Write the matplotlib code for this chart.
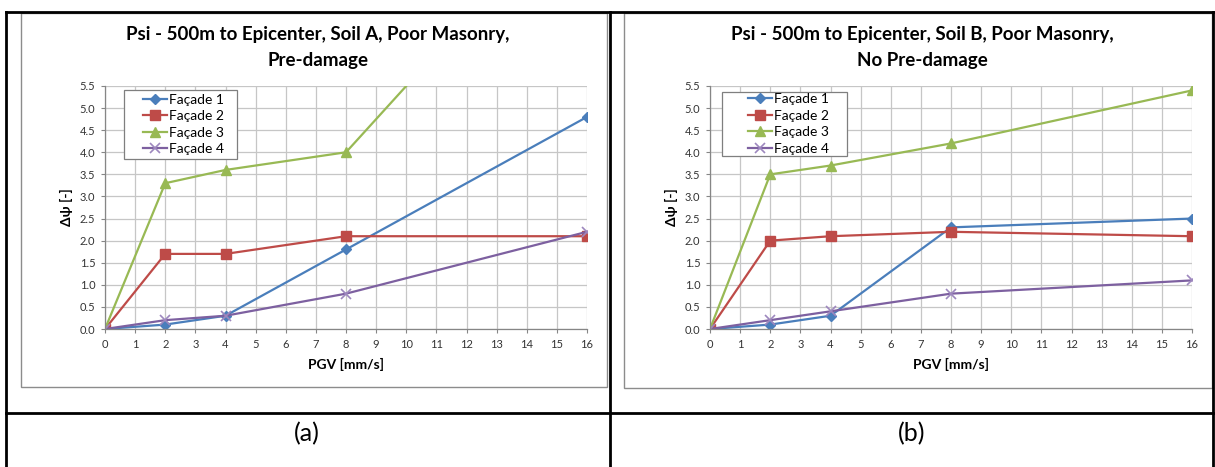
import numpy as np
import matplotlib
matplotlib.use("Agg")
import matplotlib.pyplot as plt
from matplotlib.lines import Line2D
from matplotlib.patches import Rectangle

plt.rcParams['font.family'] = ['Lato', 'DejaVu Sans']

# data
pgv = [0, 2, 4, 8, 16]
series_names = ["Façade 1", "Façade 2", "Façade 3", "Façade 4"]

psi_a_f1 = [0.0, 0.1, 0.3, 1.8, 4.8]
psi_a_f2 = [0.0, 1.7, 1.7, 2.1, 2.1]
psi_a_f3 = [0.0, 3.3, 3.6, 4.0, 10.0]   # last point off the chart
psi_a_f4 = [0.0, 0.2, 0.3, 0.8, 2.2]

psi_b_f1 = [0.0, 0.1, 0.3, 2.3, 2.5]
psi_b_f2 = [0.0, 2.0, 2.1, 2.2, 2.1]
psi_b_f3 = [0.0, 3.5, 3.7, 4.2, 5.4]
psi_b_f4 = [0.0, 0.2, 0.4, 0.8, 1.1]

titles = ["Psi - 500m to Epicenter, Soil A, Poor Masonry,\nPre-damage",
          "Psi - 500m to Epicenter, Soil B, Poor Masonry,\nNo Pre-damage"]
panel_labels = ["(a)", "(b)"]

# Excel 2007 palette
colors = ["#4A7EBB", "#BE4B48", "#98B954", "#7D60A0"]
markers = ["D", "s", "^", "x"]
msizes = [5, 7, 7, 7]

W, H = 1215, 467
fig = plt.figure(figsize=(W / 100, H / 100), dpi=100)


def fx(px):
    return px / W


def fy(py):
    return 1 - py / H


def draw_chart(x0_px, frame_px, data, title, legend_px, handle_x):
    # chart frame (grey border)
    fl, ft, fr, fb = frame_px
    fig.patches.append(Rectangle((fx(fl), fy(fb)), fx(fr - fl), (fb - ft) / H,
                                 transform=fig.transFigure, fill=False,
                                 edgecolor="#8c8c8c", linewidth=1.0))
    # plot area: x=0 at x0_px, x=16 at x0_px+482 ; y=0 at 329, 5.5 at 86
    ax = fig.add_axes([fx(x0_px), fy(329), 482 / W, 243 / H])
    for vals, c, m, ms, name in zip(data, colors, markers, msizes, series_names):
        ax.plot(pgv, vals, color=c, marker=m, markersize=ms, linewidth=1.6,
                markeredgewidth=1.0 if m != "x" else 1.2,
                markeredgecolor=c if m != "x" else "#9D87BE",
                label=name, clip_on=True)
    ax.set_xlim(0, 16)
    ax.set_ylim(0, 5.5)
    ax.set_xticks(np.arange(0, 17, 1))
    ax.set_yticks(np.arange(0, 5.51, 0.5))
    ax.set_yticklabels([f"{v:.1f}" for v in np.arange(0, 5.51, 0.5)])
    ax.grid(True, color="#c6c6c6", linewidth=0.9)
    ax.set_axisbelow(True)
    for s in ["top", "right"]:
        ax.spines[s].set_visible(False)
    for s in ["left", "bottom"]:
        ax.spines[s].set_color("#868686")
        ax.spines[s].set_linewidth(0.9)
    ax.tick_params(axis="both", labelsize=8, colors="#868686", labelcolor="#333333",
                   length=3, width=0.8, pad=4)
    ax.set_xlabel("PGV [mm/s]", fontsize=10, fontweight="bold", labelpad=6)
    ax.set_ylabel("Δψ [-]", fontsize=10, fontweight="bold", labelpad=5)

    # legend box drawn by hand so its size matches the original
    lx0, ly0, lx1, ly1 = legend_px
    ax.add_patch(Rectangle((fx(lx0), fy(ly1)), fx(lx1 - lx0), (ly1 - ly0) / H,
                           transform=fig.transFigure, facecolor="white",
                           edgecolor="#7f7f7f", linewidth=0.9, zorder=4.9,
                           clip_on=False))
    ax.legend(loc="center left",
              bbox_to_anchor=(fx(handle_x), fy((ly0 + ly1) / 2)),
              bbox_transform=fig.transFigure,
              fontsize=10, frameon=False, borderpad=0, handlelength=1.75,
              handletextpad=0.1, labelspacing=0.32, borderaxespad=0)
    cx = (fl + fr) / 2 + 4
    fig.text(fx(cx), fy(47.5), title, ha="center", va="center", fontsize=13.5,
             fontweight="bold", linespacing=1.6)
    return ax


draw_chart(105, (21, 13, 607, 387), [psi_a_f1, psi_a_f2, psi_a_f3, psi_a_f4],
           titles[0], (124, 90, 237, 159), 143)
draw_chart(710, (624, 13, 1212, 388), [psi_b_f1, psi_b_f2, psi_b_f3, psi_b_f4],
           titles[1], (722, 92, 847, 156), 748)

# table lines
lw = 2.0
for (xa, ya, xb, yb) in [(6, 12, 1213, 12), (6, 12, 6, 467), (610, 12, 610, 467),
                         (1213, 12, 1213, 467), (6, 413, 1213, 413)]:
    fig.add_artist(Line2D([fx(xa), fx(xb)], [fy(ya), fy(yb)], color="black",
                          linewidth=lw, transform=fig.transFigure))

fig.text(fx(307), fy(434), panel_labels[0], ha="center", va="center", fontsize=18)
fig.text(fx(912), fy(434), panel_labels[1], ha="center", va="center", fontsize=18)

fig.savefig("out.png", dpi=100)
